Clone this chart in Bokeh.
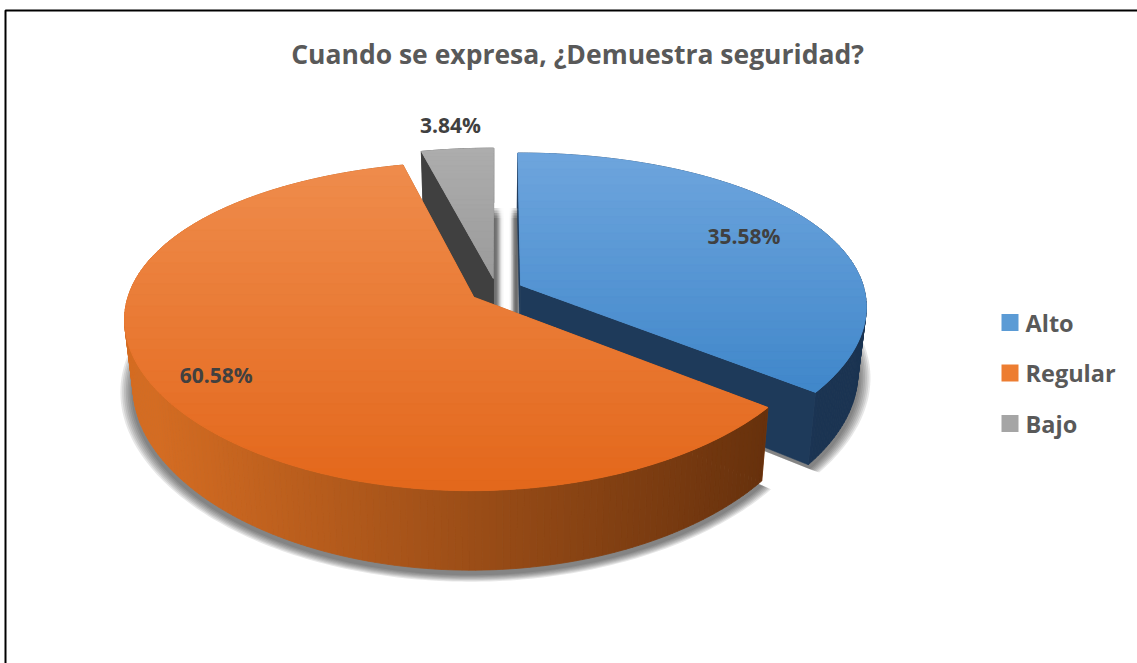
import numpy as np
from bokeh.plotting import figure
from bokeh.models import Range1d
from bokeh.embed import file_html
from bokeh.resources import INLINE
from bokeh.core.properties import value

# ---------------- data ----------------
title = "Cuando se expresa, ¿Demuestra seguridad?"
categories = ["Alto", "Regular", "Bajo"]
percentages = [35.58, 60.58, 3.84]

# ---------------- style ----------------
top_colors = [("#6EA5DD", "#4087CA"), ("#EF8C4C", "#E3671B"), ("#ADADAD", "#9B9B9B")]
wall_colors = [("#223F62", "#1B3452"), ("#D46C22", "#5A2A0A"), ("#474747", "#3A3A3A")]
legend_colors = ["#5B9BD5", "#ED7D31", "#A5A5A5"]
label_frac = [0.76, 0.83, 1.22]
FONT = "Open Sans"

W, H = 1137, 663
CX, CY = 496.0, 290.0
RX, RY = 344.0, 157.0
PX, PY = 0.13, 0.175
EXPLODE = 0.078
THICK = 65.0
SHRINK = 0.977


def hex2rgb(h):
    h = h.lstrip("#")
    return np.array([int(h[i:i + 2], 16) for i in (0, 2, 4)], dtype=float)


def mix(c0, c1, t):
    t = float(np.clip(t, 0, 1))
    c = hex2rgb(c0) * (1 - t) + hex2rgb(c1) * t
    return "#%02x%02x%02x" % tuple(int(round(x)) for x in c)


def proj(u, v):
    u = np.asarray(u, dtype=float)
    v = np.asarray(v, dtype=float)
    sx = 1.0 / (1.0 + PX * v)
    sy = 1.0 / (1.0 + PY * v)
    return CX + RX * u * sx, CY - RY * v * sy, sy


def bottom(x, y, s):
    return CX + (np.asarray(x) - CX) * SHRINK, np.asarray(y) + THICK * np.asarray(s)


def clip_half(poly, y0, keep_ge):
    out = []
    n = len(poly)
    if n == 0:
        return out
    def inside(p):
        return p[1] >= y0 if keep_ge else p[1] <= y0
    for i in range(n):
        P = poly[i - 1]
        Q = poly[i]
        if inside(Q):
            if not inside(P):
                t = (y0 - P[1]) / (Q[1] - P[1])
                out.append((P[0] + t * (Q[0] - P[0]), y0))
            out.append(Q)
        elif inside(P):
            t = (y0 - P[1]) / (Q[1] - P[1])
            out.append((P[0] + t * (Q[0] - P[0]), y0))
    return out


p = figure(width=W, height=H, output_backend="svg", toolbar_location=None,
           x_range=Range1d(0, W), y_range=Range1d(H, 0),
           x_axis_location=None, y_axis_location=None, min_border=0,
           background_fill_color="white", border_fill_color="white")
p.grid.visible = False
p.outline_line_color = None

# ---------------- geometry ----------------
tot = sum(percentages)
fr = np.array(percentages) / tot * 360.0
starts = np.concatenate([[0.0], np.cumsum(fr)[:-1]])
ends = starts + fr

slices = []
for i in range(len(percentages)):
    th0, th1 = starts[i], ends[i]
    mid = np.radians((th0 + th1) / 2)
    ou, ov = EXPLODE * np.sin(mid), EXPLODE * np.cos(mid)
    n = max(6, int((th1 - th0) / 1.0))
    th = np.radians(np.linspace(th0, th1, n))
    xt, yt, s = proj(ou + np.sin(th), ov + np.cos(th))
    xb, yb = bottom(xt, yt, s)
    xa, ya, sa = proj(ou, ov)
    xab, yab = bottom(xa, ya, sa)
    slices.append(dict(th0=th0, th1=th1, mid=mid, ou=ou, ov=ov, xt=xt, yt=yt,
                       xb=xb, yb=yb, xa=float(xa), ya=float(ya),
                       xab=float(xab), yab=float(yab)))

# ---------------- drop shadow ----------------
CYB = CY + THICK
for k in range(1, 8):
    a = 0.005 * k
    xs_l, ys_l = [], []
    for sl in slices:
        bx = np.concatenate([[sl["xab"]], sl["xb"]])
        by = np.concatenate([[sl["yab"]], sl["yb"]])
        xs_l.append(list(CX + (bx - CX) * (1 + a)))
        ys_l.append(list(CYB + (by - CYB) * (1 + a) + 4))
    p.patches(xs_l, ys_l, fill_color="#202020", fill_alpha=0.11, line_color=None)

# shadow seen through the gap between the last and the first slice
g_sl, b_sl = slices[-1], slices[0]
gx0 = float(g_sl["xt"][-1]) - 1
gx1 = float(b_sl["xt"][0]) + 1
gy0 = float(max(g_sl["yb"][-1], b_sl["yb"][0]))
gy1 = max(g_sl["yab"], b_sl["yab"])
nx = int(gx1 - gx0)
edges_x = np.linspace(gx0, gx1, nx + 1)
qx0, qx1, qy0, qy1, qa = [], [], [], [], []
for j in range(nx):
    t = (j + 0.5) / nx
    dens = 0.8 * np.exp(-((t - 0.08) / 0.17) ** 2) + 0.85 * np.exp(-((t - 0.9) / 0.14) ** 2)
    dens = min(dens, 0.85)
    for k in range(5):
        qx0.append(edges_x[j]); qx1.append(edges_x[j + 1] + 0.3)
        qy0.append(gy0 + 2.5 * k); qy1.append(gy1)
        qa.append(float(dens) / 5.0)
p.quad(left=qx0, right=qx1, top=qy0, bottom=qy1, fill_color="#303030",
       fill_alpha=qa, line_color=None)

# ---------------- slices ----------------
for i in [2, 0, 1]:
    sl = slices[i]
    wc0, wc1 = wall_colors[i]
    tc0, tc1 = top_colors[i]
    rad_col = mix(wc0, wc1, 0.5)

    walls_hidden, walls_visible = [], []
    for th_e, sign in ((sl["th0"], -1), (sl["th1"], 1)):
        normal = np.radians(th_e + sign * 90)
        r = np.radians(th_e)
        ex, ey, es = proj(sl["ou"] + np.sin(r), sl["ov"] + np.cos(r))
        ebx, eby = bottom(ex, ey, es)
        quad = ([sl["xa"], float(ex), float(ebx), sl["xab"]],
                [sl["ya"], float(ey), float(eby), sl["yab"]])
        if np.cos(normal) < -0.05:
            walls_visible.append(quad)
        else:
            walls_hidden.append(quad)

    for q in walls_hidden:
        p.patch(q[0], q[1], fill_color=rad_col, line_color=rad_col, line_width=0.5)

    # outer wall with horizontal gradient
    xs_w, ys_w, cols = [], [], []
    xt, yt, xb, yb = sl["xt"], sl["yt"], sl["xb"], sl["yb"]
    for j in range(len(xt) - 1):
        xs_w.append([xt[j], xt[j + 1], xb[j + 1], xb[j]])
        ys_w.append([yt[j], yt[j + 1], yb[j + 1], yb[j]])
        xm = (xt[j] + xt[j + 1]) / 2
        cols.append(mix(wc0, wc1, (xm - (CX - RX)) / (2 * RX)))
    p.patches(xs_w, ys_w, fill_color=cols, line_color=cols, line_width=0.8)

    for q in walls_visible:
        p.patch(q[0], q[1], fill_color=rad_col, line_color=rad_col, line_width=0.5)

    # top face with vertical gradient
    poly = [(sl["xa"], sl["ya"])] + list(zip(xt, yt))
    ymin = min(pt[1] for pt in poly)
    ymax = max(pt[1] for pt in poly)
    p.patch([pt[0] for pt in poly], [pt[1] for pt in poly],
            fill_color=mix(tc0, tc1, 0.5), line_color=None)
    nb = 30
    edges = np.linspace(ymin, ymax, nb + 1)
    bx, by, bc = [], [], []
    for b in range(nb):
        band = clip_half(clip_half(poly, edges[b], True), edges[b + 1], False)
        if len(band) < 3:
            continue
        bx.append([pt[0] for pt in band])
        by.append([pt[1] for pt in band])
        bc.append(mix(tc0, tc1, (b + 0.5) / nb))
    p.patches(bx, by, fill_color=bc, line_color=bc, line_width=0.8)

# ---------------- data labels ----------------
lx, ly, lt = [], [], []
for i, sl in enumerate(slices):
    f = label_frac[i]
    x, y, _ = proj(sl["ou"] + f * np.sin(sl["mid"]), sl["ov"] + f * np.cos(sl["mid"]))
    lx.append(float(x))
    ly.append(float(y))
    lt.append(f"{percentages[i]:.2f}%")
p.text(lx, ly, text=lt, text_align="center", text_baseline="middle",
       text_font=value(FONT), text_font_style="bold", text_font_size="21px",
       text_color="#404040")

# ---------------- legend ----------------
LEG_X, LEG_Y0, LEG_DY = 1009.5, 322.0, 50.5
leg_y = [LEG_Y0 + k * LEG_DY for k in range(len(categories))]
p.scatter([LEG_X] * len(categories), leg_y, marker="square", size=17,
          fill_color=legend_colors, line_color=None)
p.text([LEG_X + 15.5] * len(categories), leg_y, text=categories,
       text_align="left", text_baseline="middle", text_font=value(FONT),
       text_font_style="bold", text_font_size="23.5px", text_color="#595959")

# ---------------- title ----------------
p.text([577], [53], text=[title], text_align="center", text_baseline="middle",
       text_font=value(FONT), text_font_style="bold", text_font_size="26.5px",
       text_color="#595959")

# ---------------- chart border ----------------
p.line([5, 5, W + 5], [H + 5, 10, 10], line_color="black", line_width=2)

open("out.html", "w").write(file_html(p, INLINE))
